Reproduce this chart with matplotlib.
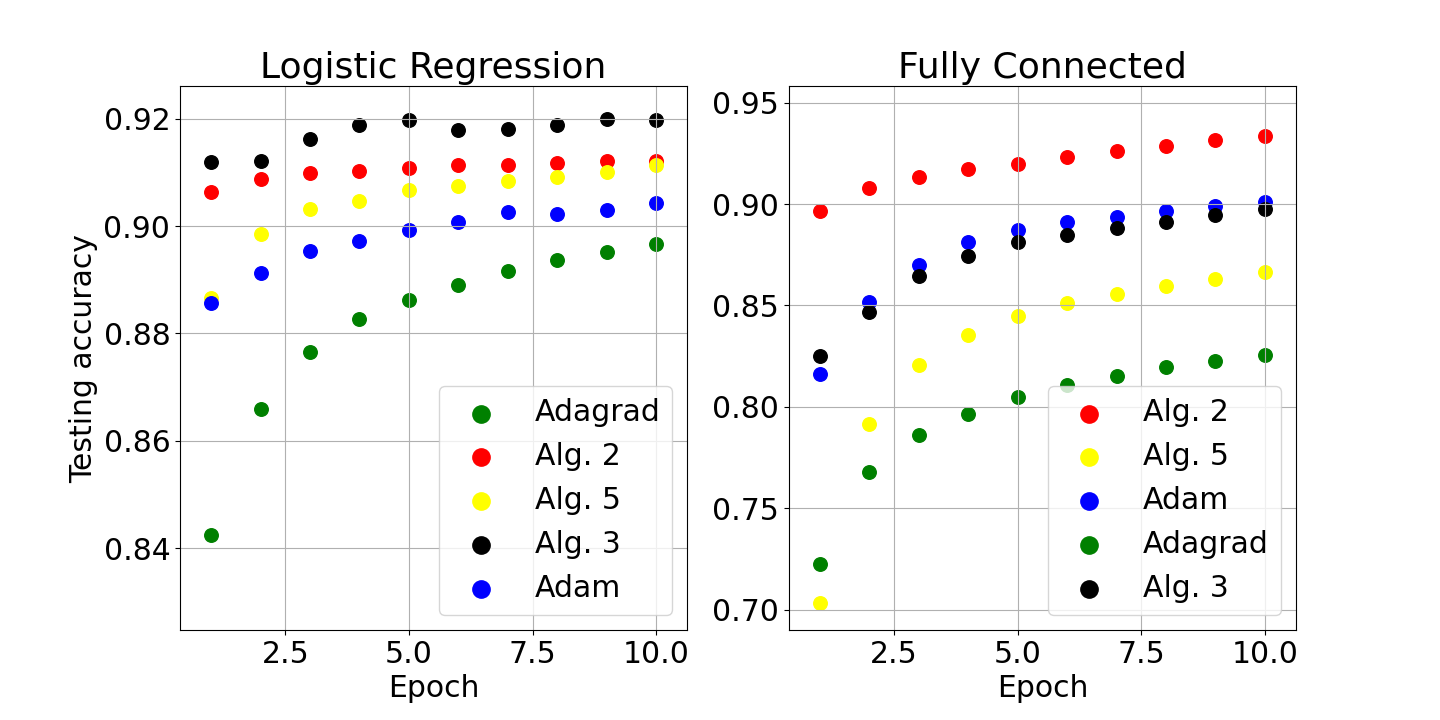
import numpy as np
import matplotlib.pyplot as plt

epochs = np.arange(1, 11)

# Logistic regression: testing accuracy per epoch
lr_adagrad = [0.8424, 0.8659, 0.8765, 0.8827, 0.8863, 0.8891, 0.8917, 0.8936, 0.8951, 0.8966]
lr_alg2 = [0.9064, 0.9087, 0.9098, 0.9103, 0.9109, 0.9113, 0.9113, 0.9117, 0.9122, 0.9122]
lr_alg5 = [0.8867, 0.8986, 0.9031, 0.9047, 0.9068, 0.9075, 0.9083, 0.9091, 0.9100, 0.9113]
lr_alg3 = [0.9119, 0.9121, 0.9162, 0.9189, 0.9198, 0.9179, 0.9181, 0.9189, 0.9199, 0.9198]
lr_adam = [0.8856, 0.8913, 0.8953, 0.8973, 0.8992, 0.9008, 0.9027, 0.9023, 0.9029, 0.9042]

# Fully connected network
fc_alg2 = [0.8966, 0.9079, 0.9133, 0.9172, 0.9197, 0.9232, 0.9261, 0.9286, 0.9315, 0.9335]
fc_alg5 = [0.7035, 0.7917, 0.8207, 0.8355, 0.8448, 0.8512, 0.8557, 0.8596, 0.8631, 0.8667]
fc_adam = [0.8164, 0.8517, 0.8701, 0.8814, 0.8874, 0.8911, 0.8938, 0.8967, 0.8990, 0.9011]
fc_adagrad = [0.7227, 0.7678, 0.7861, 0.7965, 0.8050, 0.8106, 0.8154, 0.8197, 0.8227, 0.8256]
fc_alg3 = [0.8251, 0.8468, 0.8645, 0.8745, 0.8813, 0.8847, 0.8882, 0.8911, 0.8946, 0.8977]

fs = 21.5
ms = 95

fig, (ax1, ax2) = plt.subplots(1, 2, figsize=(14.4, 7.2), dpi=100)
fig.subplots_adjust(bottom=0.125)

ax1.scatter(epochs, lr_adagrad, s=ms, color='green', label='Adagrad')
ax1.scatter(epochs, lr_alg2, s=ms, color='red', label='Alg. 2')
ax1.scatter(epochs, lr_alg5, s=ms, color='yellow', label='Alg. 5')
ax1.scatter(epochs, lr_alg3, s=ms, color='black', label='Alg. 3')
ax1.scatter(epochs, lr_adam, s=ms, color='blue', label='Adam')
ax1.set_xlim(0.37, 10.63)
ax1.set_ylim(0.8248, 0.926)
ax1.set_title('Logistic Regression', fontsize=26)
ax1.set_xlabel('Epoch', fontsize=fs)
ax1.set_ylabel('Testing accuracy', fontsize=fs)
leg1 = ax1.legend(loc='lower right', fontsize=fs, scatterpoints=1)

ax2.scatter(epochs, fc_alg2, s=ms, color='red', label='Alg. 2')
ax2.scatter(epochs, fc_alg5, s=ms, color='yellow', label='Alg. 5')
ax2.scatter(epochs, fc_adam, s=ms, color='blue', label='Adam')
ax2.scatter(epochs, fc_adagrad, s=ms, color='green', label='Adagrad')
ax2.scatter(epochs, fc_alg3, s=ms, color='black', label='Alg. 3')
ax2.set_xlim(0.37, 10.63)
ax2.set_ylim(0.690, 0.958)
ax2.set_title('Fully Connected', fontsize=26)
ax2.set_xlabel('Epoch', fontsize=fs)
leg2 = ax2.legend(loc='lower right', fontsize=fs, scatterpoints=1)

# легенда в оригіналі має більші маркери
for leg in (leg1, leg2):
    for h in leg.legend_handles:
        h.set_sizes([155])

for ax in (ax1, ax2):
    ax.grid(True)
    ax.tick_params(labelsize=fs)

plt.savefig('out.png')
